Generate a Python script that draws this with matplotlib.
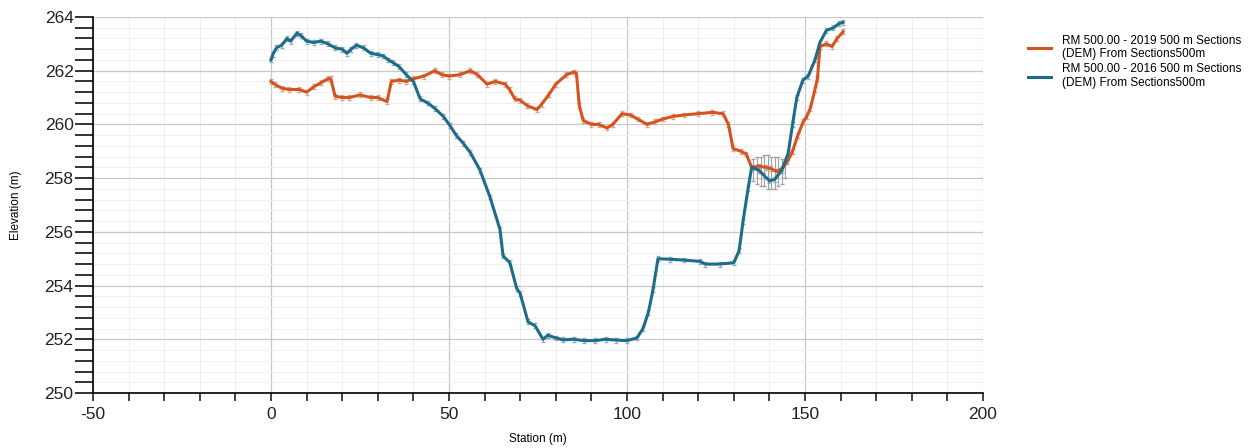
import numpy as np
import matplotlib.pyplot as plt
from matplotlib.ticker import MultipleLocator

st_2019 = [0, 1, 3, 5, 8, 10, 12, 14, 16, 16.8,
           18, 20, 22, 25, 28, 30, 32.6, 33.8, 36, 38,
           40, 43, 46, 48, 50, 53, 56, 58, 60.7, 63,
           65.8, 67, 68.5, 70, 72, 74.7, 76, 78, 80, 83,
           85, 85.8, 86.6, 87.7, 90, 92, 94.4, 96, 98.6, 101,
           103, 105.6, 108, 110, 113, 116, 120, 124, 127, 128.5,
           129.8, 132, 133.5, 135, 137, 139, 140.5, 142, 143.5, 145,
           146.5, 148, 149.5, 150.5, 151.5, 152.8, 153.5, 154.2, 156, 157.6,
           159, 160.7]
el_2019 = [261.6, 261.5, 261.35, 261.3, 261.3, 261.2, 261.4, 261.55, 261.7, 261.7,
           261.05, 261.0, 261.0, 261.1, 261.0, 261.0, 260.85, 261.6, 261.65, 261.6,
           261.7, 261.8, 262.0, 261.85, 261.8, 261.85, 262.0, 261.85, 261.5, 261.6,
           261.5, 261.3, 260.95, 260.9, 260.7, 260.55, 260.75, 261.1, 261.5, 261.85,
           261.95, 261.9, 260.7, 260.15, 260.0, 260.0, 259.87, 260.0, 260.4, 260.35,
           260.2, 260.0, 260.1, 260.2, 260.3, 260.35, 260.4, 260.45, 260.4, 260.0,
           259.1, 259.0, 258.9, 258.4, 258.45, 258.4, 258.35, 258.25, 258.35, 258.6,
           259.0, 259.6, 260.1, 260.3, 260.6, 261.3, 261.7, 262.9, 263.0, 262.9,
           263.2, 263.45]

st_2016 = [0, 0.5, 1.5, 3, 4.5, 5.5, 7.3, 8.5, 10, 12,
           14, 16, 18, 20, 21.3, 22.5, 24, 26, 28, 30,
           31.5, 33, 34.3, 36, 38, 40, 41.9, 44, 46, 48.4,
           50.3, 52, 54, 56, 58.7, 61.5, 64.3, 65.2, 67.1, 69,
           70, 72.2, 74.2, 76.4, 77.8, 80, 82, 85, 88, 91,
           94, 97, 100, 102.8, 104.5, 106, 107.3, 108.7, 112, 116,
           120.5, 122, 126, 130, 131.5, 132.6, 134, 135, 137, 138.5,
           140, 141.5, 143.5, 145.3, 146.5, 147.7, 149.4, 150.9, 152.8, 154.2,
           156, 158, 159.5, 160.7]
el_2016 = [262.4, 262.6, 262.85, 262.95, 263.2, 263.1, 263.4, 263.3, 263.1, 263.05,
           263.1, 263.0, 262.85, 262.8, 262.65, 262.8, 262.95, 262.85, 262.65, 262.6,
           262.55, 262.4, 262.3, 262.15, 261.85, 261.6, 260.95, 260.8, 260.6, 260.3,
           259.95, 259.6, 259.3, 258.95, 258.3, 257.3, 256.1, 255.1, 254.85, 253.9,
           253.7, 252.65, 252.5, 252.0, 252.15, 252.05, 251.98, 252.0, 251.95, 251.95,
           252.0, 251.97, 251.95, 252.05, 252.4, 253.0, 253.84, 255.0, 254.98, 254.95,
           254.9, 254.8, 254.8, 254.85, 255.3, 256.4, 257.6, 258.4, 258.3, 258.1,
           257.9, 257.95, 258.3, 258.94, 260.0, 261.0, 261.65, 261.8, 262.4, 263.05,
           263.5, 263.6, 263.75, 263.8]

# grey range bars where the two sections overlap
band_st = [135.5, 136.5, 137.5, 138.5, 139.5, 140.5, 141.5, 142.5, 143.5, 144.5]
band_lo = [257.9, 257.8, 257.7, 257.7, 257.6, 257.6, 257.6, 257.7, 257.8, 258.0]
band_hi = [258.7, 258.8, 258.8, 258.85, 258.85, 258.8, 258.8, 258.8, 258.7, 258.6]

labels = ['RM 500.00 - 2019 500 m Sections\n(DEM) From Sections500m',
          'RM 500.00 - 2016 500 m Sections\n(DEM) From Sections500m']

plt.rcParams['font.family'] = ['Liberation Sans', 'DejaVu Sans']
plt.rcParams['axes.unicode_minus'] = False

fig = plt.figure(figsize=(12.59, 4.48), dpi=100)
ax = fig.add_axes([93/1259, 55/448, 890/1259, 376/448])

orange = '#D4531F'
blue = '#1E6B8A'

# small uncertainty ticks along each profile
ax.errorbar(st_2019, el_2019, yerr=0.09, fmt='none', ecolor='#d9a58c', elinewidth=0.7, capsize=1.2, zorder=2)
ax.errorbar(st_2016, el_2016, yerr=0.09, fmt='none', ecolor='#8fb0bf', elinewidth=0.7, capsize=1.2, zorder=2)
mid = (np.array(band_lo) + np.array(band_hi)) / 2
err = (np.array(band_hi) - np.array(band_lo)) / 2
ax.errorbar(band_st, mid, yerr=err, fmt='none', ecolor='#a0a0a0', elinewidth=0.8, capsize=1.5, zorder=2)

l1, = ax.plot(st_2019, el_2019, color=orange, lw=2.2, zorder=3)
l2, = ax.plot(st_2016, el_2016, color=blue, lw=2.2, zorder=4)

ax.set_xlim(-50, 200)
ax.set_ylim(250, 264)
ax.xaxis.set_major_locator(MultipleLocator(50))
ax.xaxis.set_minor_locator(MultipleLocator(10))
ax.yaxis.set_major_locator(MultipleLocator(2))
ax.yaxis.set_minor_locator(MultipleLocator(0.4))

ax.grid(which='major', color='#c8c8c8', lw=0.9)
ax.grid(which='minor', color='#efefef', lw=0.7)
ax.set_axisbelow(True)

for s in ['top', 'right']:
    ax.spines[s].set_visible(False)
ax.spines['left'].set_linewidth(1.2)
ax.spines['bottom'].set_linewidth(1.2)

ax.tick_params(axis='y', which='both', length=13, width=1.3, labelsize=12.5, colors='#222222', pad=1)
ax.tick_params(axis='x', which='both', length=6, width=1.2, labelsize=12.5, colors='#222222', pad=4)

ax.set_xlabel('Station (m)', fontsize=8.5, labelpad=8)
ax.set_ylabel('Elevation (m)', fontsize=8.5, labelpad=16)

fig.legend([l1, l2], labels, loc='upper left', bbox_to_anchor=(1017/1259, 1 - 24/448),
           frameon=False, fontsize=8.5, handlelength=2.0, labelspacing=0.25, handletextpad=0.9)

plt.savefig('out.png')
